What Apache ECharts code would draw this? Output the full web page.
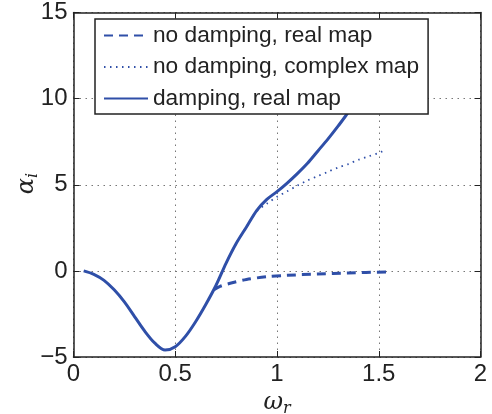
<!DOCTYPE html>
<html><head><meta charset="utf-8">
<script src="https://cdn.jsdelivr.net/npm/echarts@6/dist/echarts.min.js"></script>
<style>html,body{margin:0;padding:0;background:#fff}#c{width:492px;height:414px}</style>
</head><body><div id="c"></div>
<script>
const seriesNames = ['no damping, real map', 'no damping, complex map', 'damping, real map'];
const xTicks = [0, 0.5, 1, 1.5, 2];
const yTicks = [-5, 0, 5, 10, 15];

const dashedX = [0.69, 0.72, 0.77, 0.85, 0.95, 1.05, 1.2, 1.35, 1.55];
const dashedY = [-1.1, -0.9, -0.72, -0.5, -0.34, -0.26, -0.18, -0.12, -0.06];

const dottedX = [0.69, 0.7, 0.75, 0.8, 0.85, 0.9, 0.95, 1.0, 1.05, 1.1, 1.15, 1.2, 1.25, 1.3, 1.35, 1.4, 1.45, 1.5, 1.52];
const dottedY = [-1.1, -0.85, 0.45, 1.6, 2.55, 3.45, 3.9, 4.3, 4.62, 4.95, 5.25, 5.5, 5.75, 6.0, 6.2, 6.45, 6.65, 6.85, 6.95];

const solidX = [0.05, 0.1, 0.15, 0.2, 0.25, 0.3, 0.35, 0.4, 0.45, 0.5, 0.55, 0.6, 0.65, 0.7, 0.75, 0.8, 0.85, 0.9, 0.95, 1.0, 1.05, 1.1, 1.15, 1.2, 1.25, 1.3, 1.35, 1.4, 1.45, 1.5, 1.55, 1.6];
const solidY = [0, -0.2, -0.55, -1.1, -1.8, -2.65, -3.5, -4.2, -4.6, -4.4, -3.8, -2.95, -1.95, -0.85, 0.45, 1.6, 2.55, 3.5, 4.15, 4.6, 5.1, 5.65, 6.25, 6.95, 7.65, 8.4, 9.2, 10.0, 10.9, 11.8, 12.8, 13.8];

const zip = (xs, ys) => xs.map((x, i) => [x, ys[i]]);
const blue = '#2f4fa8';
const ink = '#222';
const font = 'Liberation Sans, Arial, Helvetica, sans-serif';
const serif = 'DejaVu Serif, Liberation Serif, serif';

const chart = echarts.init(document.getElementById('c'), null, {renderer: 'canvas'});
const fmt = v => (v < 0 ? '\u2212' + Math.abs(v) : String(v));
const baseX = {
  type: 'value', min: xTicks[0], max: xTicks[xTicks.length - 1], interval: 0.5,
  axisLine: {show: true, onZero: false, lineStyle: {color: ink, width: 1.5}},
  axisTick: {show: true, inside: true, length: 6, lineStyle: {color: ink, width: 1}},
};
const baseY = {
  type: 'value', min: yTicks[0], max: yTicks[yTicks.length - 1], interval: 5,
  axisLine: {show: true, onZero: false, lineStyle: {color: ink, width: 1.5}},
  axisTick: {show: true, inside: true, length: 6, lineStyle: {color: ink, width: 1}},
};
chart.setOption({
  animation: false,
  backgroundColor: '#fff',
  grid: {left: 73.5, right: 11.5, top: 12.5, bottom: 57, containLabel: false, outerBoundsMode: 'none'},
  legend: {
    show: true, orient: 'vertical', left: 95, top: 19,
    data: seriesNames,
    itemWidth: 44, itemHeight: 14, itemGap: 8.5,
    padding: [5, 9, 4, 8],
    backgroundColor: '#fff', borderColor: ink, borderWidth: 1.5,
    itemStyle: {color: 'transparent', borderWidth: 0, opacity: 0},
    textStyle: {fontFamily: font, fontSize: 22.7, color: ink, lineHeight: 22},
  },
  graphic: [{
    type: 'text', left: 15, top: 173, rotation: Math.PI / 2,
    style: {
      text: '{a|\u03b1}{s|i}',
      rich: {
        a: {fontFamily: serif, fontStyle: 'italic', fontSize: 24, fill: ink},
        s: {fontFamily: serif, fontStyle: 'italic', fontSize: 16, fill: ink, padding: [12, 0, 0, 0]}
      }
    }
  }],
  xAxis: [
    Object.assign({}, baseX, {
      position: 'bottom',
      name: '{w|\u03c9}{s|r}', nameLocation: 'middle', nameGap: 31,
      nameTextStyle: {rich: {
        w: {fontFamily: serif, fontStyle: 'italic', fontSize: 24, color: ink},
        s: {fontFamily: serif, fontStyle: 'italic', fontSize: 16, color: ink, padding: [12, 0, 0, 0]}
      }},
      axisLabel: {show: true, fontFamily: font, fontSize: 24, color: ink, margin: 5, formatter: fmt},
      splitLine: {show: true, lineStyle: {color: '#777', width: 1, type: [1.5, 4.5]}},
    }),
    Object.assign({}, baseX, {position: 'top', axisLabel: {show: false}, splitLine: {show: false}}),
  ],
  yAxis: [
    Object.assign({}, baseY, {
      position: 'left',
      axisLabel: {show: true, fontFamily: font, fontSize: 24, color: ink, margin: 6, formatter: fmt},
      splitLine: {show: true, lineStyle: {color: '#777', width: 1, type: [1.5, 4.5]}},
    }),
    Object.assign({}, baseY, {position: 'right', axisLabel: {show: false}, splitLine: {show: false}}),
  ],
  series: [
    {name: seriesNames[0], type: 'line', data: zip(dashedX, dashedY), smooth: 0.3, symbol: 'none', showSymbol: false,
     lineStyle: {color: blue, width: 3, type: [9, 6]}, itemStyle: {color: blue}, z: 3},
    {name: seriesNames[1], type: 'line', data: zip(dottedX, dottedY), smooth: 0.3, symbol: 'none', showSymbol: false,
     lineStyle: {color: blue, width: 1.8, type: [1.5, 4.5]}, itemStyle: {color: blue}, z: 2},
    {name: seriesNames[2], type: 'line', data: zip(solidX, solidY), smooth: 0.3, symbol: 'none', showSymbol: false,
     lineStyle: {color: blue, width: 3}, itemStyle: {color: blue}, z: 3},
  ],
});
</script></body></html>
